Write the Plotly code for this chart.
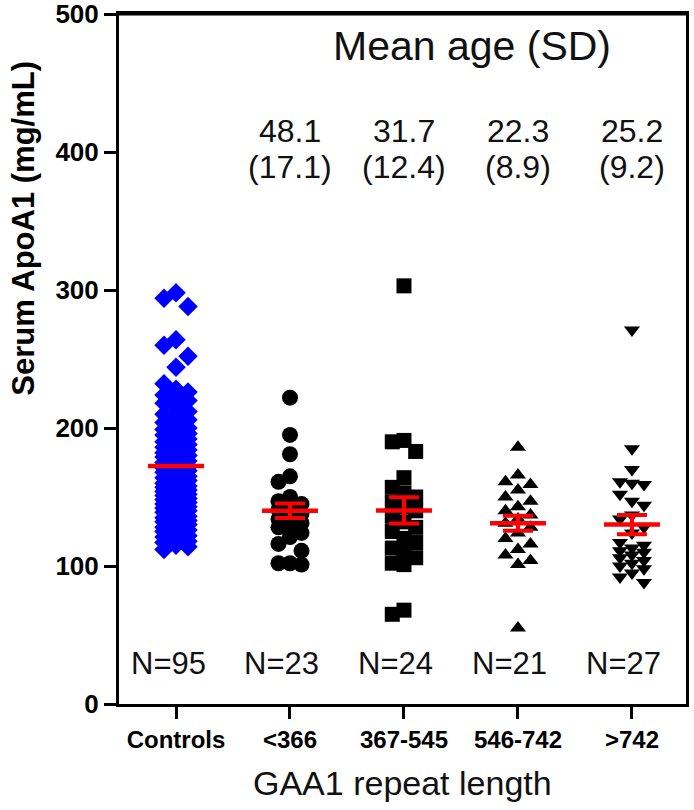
import plotly.graph_objects as go

# ---------------- data ----------------
categories = ["Controls", "<366", "367-545", "546-742", ">742"]
n_labels = ["N=95", "N=23", "N=24", "N=21", "N=27"]
age_mean = ["48.1", "31.7", "22.3", "25.2"]
age_sd = ["(17.1)", "(12.4)", "(8.9)", "(9.2)"]
y_ticks = [0, 100, 200, 300, 400, 500]

controls = [298, 294, 288, 264, 260, 252, 244,
            232, 228, 226, 224, 222, 220, 218, 215, 212, 210,
            208, 206, 204, 202, 200, 199, 198, 196, 195, 193,
            192, 190, 189, 188, 186, 185, 184, 182, 181, 180,
            179, 178, 176, 175, 174, 172, 171, 170, 169, 168,
            166, 165, 164, 163, 162, 160, 159, 158, 157, 156,
            155, 154, 153, 152, 151, 150, 149, 148, 147, 146,
            145, 144, 143, 142, 141, 140, 139, 138, 136, 135,
            134, 133, 132, 131, 130, 128, 127, 126, 125, 124,
            122, 121, 120, 118, 117, 115, 114, 112]
gaa_lt366 = [222, 195, 181, 165, 161, 150, 147, 145, 143, 141, 138, 136, 134,
             131, 129, 128, 124, 121, 116, 111, 102, 101, 102]
gaa_367_545 = [303, 191, 190, 183, 164, 157, 153, 150, 146, 143, 140, 136,
               132, 128, 125, 120, 117, 113, 110, 106, 102, 101, 68, 65]
gaa_546_742 = [186, 166, 161, 159, 155, 150, 147, 143, 140, 137, 134, 131,
               128, 124, 120, 116, 112, 108, 104, 101, 55]
gaa_gt742 = [271, 185, 170, 161, 160, 159, 152, 147, 144, 137, 134, 128, 124,
             117, 115, 113, 111, 110, 108, 106, 104, 102, 100, 98, 95, 92, 88]

group_means = [172.5, 140.0, 140.3, 131.0, 130.0]
group_sem = [0, 5.3, 9.5, 5.5, 7.0]

groups = [controls, gaa_lt366, gaa_367_545, gaa_546_742, gaa_gt742]

# ---------------- layout helpers ----------------
PX_PER_CAT = 114.0      # horizontal pixels per category
PX_PER_UNIT = 1.38      # vertical pixels per mg/mL


def swarm_offsets(values, step_px, size_px):
    order = sorted(range(len(values)), key=lambda i: -values[i])
    slots = [0, -1, 1]
    placed = {s: [] for s in slots}
    offs = [0.0] * len(values)
    for i in order:
        ypx = values[i] * PX_PER_UNIT
        best, bestgap = 0, -1
        for s in slots:
            gap = min([abs(ypx - p) for p in placed[s]], default=1e9)
            if gap >= size_px:
                best = s
                break
            if gap > bestgap:
                bestgap, best = gap, s
        placed[best].append(ypx)
        offs[i] = best * step_px / PX_PER_CAT
    return offs


styles = [
    dict(symbol="diamond", size=15, color="#0000FF", step=12, h=19),
    dict(symbol="circle", size=16, color="#000000", step=11.5, h=16),
    dict(symbol="square", size=15, color="#000000", step=11.7, h=15),
    dict(symbol="triangle-up", size=14, color="#000000", step=12.5, h=13),
    dict(symbol="triangle-down", size=14, color="#000000", step=12, h=13),
]

fig = go.Figure()

for gi, (vals, st) in enumerate(zip(groups, styles)):
    offs = swarm_offsets(vals, st["step"], st["h"])
    fig.add_trace(go.Scatter(
        x=[gi + o for o in offs], y=vals, mode="markers",
        marker=dict(symbol=st["symbol"], size=st["size"], color=st["color"],
                    line=dict(width=0)),
        showlegend=False, hoverinfo="y"))

# error bars (SEM) for GAA groups
fig.add_trace(go.Scatter(
    x=list(range(1, 5)), y=group_means[1:], mode="markers",
    marker=dict(size=1, color="rgba(0,0,0,0)"),
    error_y=dict(type="data", array=group_sem[1:], visible=True,
                 color="#FF0000", thickness=4, width=15),
    showlegend=False, hoverinfo="skip"))

# mean lines
HALF = 28 / PX_PER_CAT
for gi, m in enumerate(group_means):
    fig.add_trace(go.Scatter(
        x=[gi - HALF, gi + HALF], y=[m, m], mode="lines",
        line=dict(color="#FF0000", width=4.5),
        showlegend=False, hoverinfo="skip"))

# ---------------- annotations ----------------
ann = []
txt_font = dict(family="Liberation Sans, Arial, sans-serif", color="#111111")
ann.append(dict(x=2.6, y=477, xref="x", yref="y", text="Mean age (SD)",
                showarrow=False, font=dict(size=41, **txt_font)))
for i in range(4):
    ann.append(dict(x=i + 1, y=415, xref="x", yref="y", text=age_mean[i],
                    showarrow=False, font=dict(size=32, **txt_font)))
    ann.append(dict(x=i + 1, y=389, xref="x", yref="y", text=age_sd[i],
                    showarrow=False, font=dict(size=32, **txt_font)))
for i in range(5):
    ann.append(dict(x=i, y=29, xref="x", yref="y", text=n_labels[i], xshift=-8,
                    showarrow=False, font=dict(size=31, **txt_font)))

ann.append(dict(x=0.5, y=-0.115, xref="paper", yref="paper",
                text="GAA1 repeat length", showarrow=False,
                xanchor="center", yanchor="middle",
                font=dict(size=34, **txt_font)))
ann.append(dict(x=-0.168, y=0.69, xref="paper", yref="paper",
                text="<b>Serum ApoA1 (mg/mL)</b>", showarrow=False,
                textangle=-90, xanchor="center", yanchor="middle",
                font=dict(size=31, family="Liberation Sans, Arial",
                          color="#000000")))

fig.update_layout(
    width=694, height=810,
    margin=dict(l=119, r=8, t=14, b=106, autoexpand=False),
    paper_bgcolor="white", plot_bgcolor="white",
    annotations=ann,
    shapes=[dict(type="line", xref="paper", yref="paper", x0=0, x1=1, y0=1, y1=1,
                 line=dict(color="black", width=3), layer="above")],
    xaxis=dict(range=[-0.5, 4.474], tickmode="array", tickvals=list(range(5)),
               ticktext=[f"<b>{c}</b>" for c in categories],
               showgrid=False, zeroline=False, showline=True, linewidth=3,
               linecolor="black", mirror=True, ticks="outside", ticklen=12,
               tickwidth=3, tickcolor="black", automargin=False,
               ticklabeloverflow="allow",
               tickfont=dict(size=24, family="Liberation Sans, Arial", color="#000000")),
    yaxis=dict(range=[0, 500], tickmode="array", tickvals=y_ticks,
               ticktext=["<b>%d</b>" % v for v in y_ticks],
               showgrid=False, zeroline=False, showline=True, linewidth=3,
               linecolor="black", mirror=True, ticks="outside", ticklen=12,
               tickwidth=3, tickcolor="black", automargin=False,
               ticklabeloverflow="allow",
               tickfont=dict(size=26, family="Liberation Sans, Arial", color="#000000")),
)

fig.write_html("out.html", config={"displayModeBar": False},
               post_script="document.body.style.margin='0';document.body.style.overflow='hidden';")
